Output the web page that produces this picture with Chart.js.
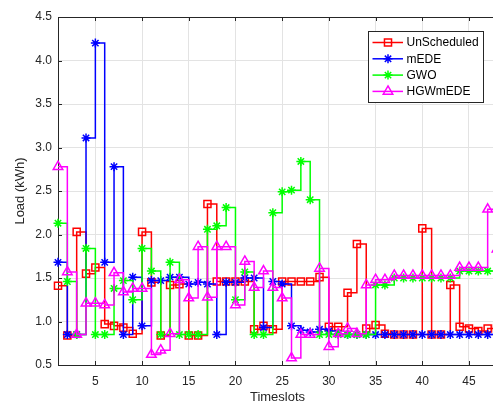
<!DOCTYPE html>
<html>
<head>
<meta charset="utf-8">
<script src="https://cdn.jsdelivr.net/npm/chart.js@4/dist/chart.umd.min.js"></script>
<style>
  html, body { margin: 0; padding: 0; background: #fff; overflow: hidden; }
  #wrap { width: 493px; height: 405px; overflow: hidden; }
  canvas { display: block; }
</style>
</head>
<body>
<div id="wrap"><canvas id="loadChart" width="504" height="405"></canvas></div>
<script>
// time slots on the x axis
const timeslots = [1, 2, 3, 4, 5, 6, 7, 8, 9, 10, 11, 12, 13, 14, 15, 16, 17, 18, 19, 20, 21, 22, 23, 24,
  25, 26, 27, 28, 29, 30, 31, 32, 33, 34, 35, 36, 37, 38, 39, 40, 41, 42, 43, 44, 45, 46, 47, 48];

const seriesNames = ["UnScheduled", "mEDE", "GWO", "HGWmEDE"];

// load (kWh) per slot
const unscheduled = [1.41, 0.84, 2.03, 1.55, 1.62, 0.97, 0.95, 0.93, 0.86, 2.03, 1.45, 0.84, 1.42, 1.43, 0.84, 0.84,
  2.35, 1.46, 1.46, 1.46, 1.46, 0.91, 0.95, 0.91, 1.46, 1.46, 1.46, 1.46, 1.51, 0.94, 0.94, 1.33,
  1.89, 0.92, 0.96, 0.86, 0.85, 0.85, 0.85, 2.07, 0.85, 0.85, 1.42, 0.94, 0.92, 0.89, 0.92, 0.92];
const mEDE = [1.68, 0.85, 0.85, 3.11, 4.20, 1.68, 2.78, 0.85, 1.51, 0.95, 1.47, 1.47, 1.51, 1.51, 1.43, 1.45,
  1.43, 0.85, 1.45, 1.45, 1.50, 1.50, 0.93, 1.46, 1.43, 0.95, 0.90, 0.88, 0.91, 0.89, 0.86, 0.85,
  0.85, 0.85, 0.85, 0.85, 0.85, 0.85, 0.85, 0.85, 0.85, 0.85, 0.85, 0.85, 0.85, 0.85, 0.85, 0.85];
const gwo = [2.13, 1.46, 0.85, 1.84, 0.85, 0.85, 1.38, 1.47, 1.25, 1.84, 1.58, 0.85, 1.68, 0.85, 0.85, 0.85,
  2.06, 2.10, 2.31, 1.25, 1.57, 0.85, 0.85, 2.25, 2.49, 2.51, 2.84, 2.40, 0.85, 0.85, 0.85, 0.85,
  0.85, 0.85, 1.42, 1.42, 1.50, 1.50, 1.50, 1.50, 1.50, 1.50, 1.50, 1.58, 1.58, 1.58, 1.58, 1.58];
const hgwmede = [2.78, 1.57, 0.85, 1.21, 1.21, 1.19, 1.56, 1.34, 1.38, 1.38, 0.62, 0.67, 0.86, 1.48, 1.27, 1.86,
  1.28, 1.86, 1.86, 1.19, 1.69, 1.39, 1.58, 1.39, 1.27, 0.58, 0.85, 0.85, 1.61, 0.71, 0.86, 0.92,
  0.86, 1.42, 1.48, 1.48, 1.53, 1.53, 1.53, 1.53, 1.53, 1.53, 1.53, 1.62, 1.62, 1.62, 2.29, 1.83];

const xTicks = [5, 10, 15, 20, 25, 30, 35, 40, 45];
const yTicks = [0.5, 1, 1.5, 2, 2.5, 3, 3.5, 4, 4.5];

const AXIS = "#262626";
const FONT = "'Liberation Sans', Arial, Helvetica, sans-serif";

function points(values) {
  return values.map((v, i) => ({ x: timeslots[i], y: v }));
}

function stairs(label, values, color, style, radius, order) {
  return {
    label,
    data: points(values),
    borderColor: color,
    backgroundColor: "rgba(0,0,0,0)",
    borderWidth: 1.5,
    stepped: "before",
    pointStyle: style,
    pointRadius: radius,
    pointBorderWidth: 1.5,
    pointBorderColor: color,
    pointBackgroundColor: "rgba(0,0,0,0)",
    clip: false,
    order
  };
}

// MATLAB-like box, inward ticks and legend
const matlabFrame = {
  id: "matlabFrame",
  afterDraw(chart) {
    const { ctx, chartArea: a, scales } = chart;
    ctx.save();
    ctx.strokeStyle = AXIS;
    ctx.lineWidth = 1;
    ctx.beginPath();
    ctx.moveTo(a.left, a.top + 0.5);
    ctx.lineTo(a.right, a.top + 0.5);
    ctx.moveTo(a.right - 0.5, a.top);
    ctx.lineTo(a.right - 0.5, a.bottom);
    xTicks.forEach(v => {
      const px = Math.round(scales.x.getPixelForValue(v)) + 0.5;
      ctx.moveTo(px, a.bottom); ctx.lineTo(px, a.bottom - 4);
      ctx.moveTo(px, a.top); ctx.lineTo(px, a.top + 4);
    });
    yTicks.forEach(v => {
      const py = Math.round(scales.y.getPixelForValue(v)) + 0.5;
      ctx.moveTo(a.left, py); ctx.lineTo(a.left + 4, py);
      ctx.moveTo(a.right, py); ctx.lineTo(a.right - 4, py);
    });
    ctx.stroke();

    // legend
    const box = { x: 368.5, y: 31.5, w: 115, h: 71 };
    ctx.fillStyle = "#fff";
    ctx.fillRect(box.x, box.y, box.w, box.h);
    ctx.strokeStyle = AXIS;
    ctx.strokeRect(box.x, box.y, box.w, box.h);
    ctx.font = "12px " + FONT;
    ctx.textBaseline = "middle";
    ctx.textAlign = "left";
    chart.data.datasets.forEach((ds, i) => {
      const y = 42.5 + i * 16.3;
      ctx.strokeStyle = ds.borderColor;
      ctx.fillStyle = "rgba(0,0,0,0)";
      ctx.lineWidth = 1.5;
      ctx.beginPath();
      ctx.moveTo(372.5, y);
      ctx.lineTo(403, y);
      ctx.stroke();
      Chart.helpers.drawPoint(ctx, {
        pointStyle: ds.pointStyle, radius: ds.pointRadius, rotation: 0, borderWidth: 1.5
      }, 388, y);
      ctx.fillStyle = "#000";
      ctx.fillText(seriesNames[i], 406.5, y + 0.5);
    });
    ctx.restore();
  }
};

new Chart(document.getElementById("loadChart"), {
  type: "line",
  data: {
    datasets: [
      stairs(seriesNames[0], unscheduled, "#ff0000", "rect", 5, 3),
      stairs(seriesNames[1], mEDE, "#0000ff", "star", 4.5, 2),
      stairs(seriesNames[2], gwo, "#00ff00", "star", 4.5, 1),
      stairs(seriesNames[3], hgwmede, "#ff00ff", "triangle", 5.5, 0)
    ]
  },
  options: {
    responsive: false,
    animation: false,
    layout: { padding: { top: 17, right: 0, bottom: 0, left: 0 } },
    plugins: { legend: { display: false }, tooltip: { enabled: false } },
    scales: {
      x: {
        type: "linear",
        min: 1,
        max: 48,
        afterBuildTicks: s => { s.ticks = xTicks.map(v => ({ value: v })); },
        afterFit: s => { s.height = 40; },
        grid: { color: "#e3e3e3", drawTicks: false },
        border: { display: true, color: AXIS, width: 1 },
        ticks: { color: AXIS, font: { family: FONT, size: 12 }, padding: 9, maxRotation: 0, autoSkip: false },
        title: { display: true, text: "Timeslots", color: AXIS, font: { family: FONT, size: 13 }, padding: { top: 0, bottom: 0 } }
      },
      y: {
        min: 0.5,
        max: 4.5,
        afterBuildTicks: s => { s.ticks = yTicks.map(v => ({ value: v })); },
        afterFit: s => { s.width = 58; },
        grid: { color: "#e3e3e3", drawTicks: false },
        border: { display: true, color: AXIS, width: 1 },
        ticks: { color: AXIS, font: { family: FONT, size: 12 }, padding: 6, autoSkip: false },
        title: { display: true, text: "Load (kWh)", color: AXIS, font: { family: FONT, size: 13 }, padding: { top: 13, bottom: 0 } }
      }
    }
  },
  plugins: [matlabFrame]
});
</script>
</body>
</html>
